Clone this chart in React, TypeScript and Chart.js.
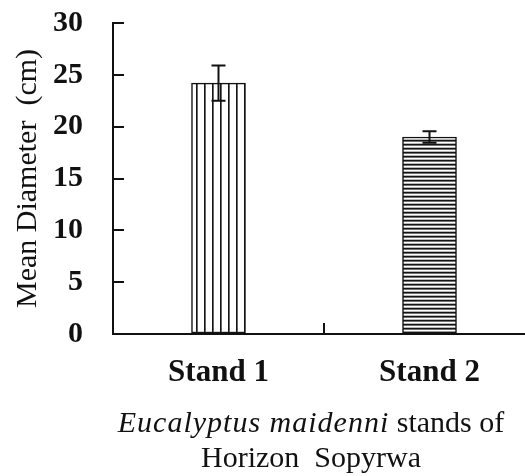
import React, { useEffect, useRef } from 'react';
import { Chart, registerables } from 'chart.js';

Chart.register(...registerables);

const categories = ['Stand 1', 'Stand 2'];
const meanDiameter = [24.2, 19.0];
const errorValues = [1.7, 0.55];
const yTicks = [0, 5, 10, 15, 20, 25, 30];
const yTitle = 'Mean Diameter  (cm)';
const xTitleItalic = 'Eucalyptus maidenni';
const xTitleRest = ' stands of';
const xTitleLine2 = 'Horizon  Sopyrwa';

const FONT = '"Liberation Serif", "Times New Roman", serif';
const INK = '#111';

function makePattern(ctx: CanvasRenderingContext2D, kind: 'v' | 'h') {
  const c = document.createElement('canvas');
  const t = c.getContext('2d') as CanvasRenderingContext2D;
  if (kind === 'v') {
    c.width = 8;
    c.height = 1;
    t.fillStyle = '#fff';
    t.fillRect(0, 0, 8, 1);
    t.fillStyle = '#151515';
    t.fillRect(4, 0, 1, 1);
    t.fillStyle = '#666';
    t.fillRect(5, 0, 1, 1);
  } else {
    c.width = 1;
    c.height = 4;
    t.fillStyle = '#fff';
    t.fillRect(0, 0, 1, 4);
    t.fillStyle = '#151515';
    t.fillRect(0, 0, 1, 1);
    t.fillStyle = '#707070';
    t.fillRect(0, 1, 1, 1);
    t.fillStyle = '#b8b8b8';
    t.fillRect(0, 3, 1, 1);
  }
  return ctx.createPattern(c, 'repeat') as CanvasPattern;
}

const errorBarPlugin = {
  id: 'errorBars',
  afterDatasetsDraw(chart: any) {
    const ctx = chart.ctx;
    const meta = chart.getDatasetMeta(0);
    const y = chart.scales.y;
    ctx.save();
    ctx.strokeStyle = INK;
    ctx.lineWidth = 2;
    meta.data.forEach((bar: any, i: number) => {
      const v = meanDiameter[i];
      const e = errorValues[i];
      const yt = y.getPixelForValue(v + e);
      const yb = y.getPixelForValue(v - e);
      const x = bar.x;
      const cap = 7;
      ctx.beginPath();
      ctx.moveTo(x, yt);
      ctx.lineTo(x, yb);
      ctx.moveTo(x - cap, yt);
      ctx.lineTo(x + cap, yt);
      ctx.moveTo(x - cap, yb);
      ctx.lineTo(x + cap, yb);
      ctx.stroke();
    });
    ctx.restore();
  },
};

const xTitlePlugin = {
  id: 'xTitle',
  afterDraw(chart: any) {
    const ctx = chart.ctx;
    const cx = chart.width / 2;
    const base = chart.chartArea.bottom;
    ctx.save();
    ctx.fillStyle = INK;
    ctx.textBaseline = 'alphabetic';
    ctx.textAlign = 'left';
    ctx.font = `italic 30px ${FONT}`;
    (ctx as any).letterSpacing = '1px';
    const w1 = ctx.measureText(xTitleItalic).width;
    (ctx as any).letterSpacing = '0px';
    ctx.font = `30px ${FONT}`;
    const w2 = ctx.measureText(xTitleRest).width;
    const x0 = cx - (w1 + w2) / 2;
    const y1 = base + 98;
    ctx.font = `italic 30px ${FONT}`;
    (ctx as any).letterSpacing = '1px';
    ctx.fillText(xTitleItalic, x0, y1);
    (ctx as any).letterSpacing = '0px';
    ctx.font = `30px ${FONT}`;
    ctx.fillText(xTitleRest, x0 + w1, y1);
    ctx.textAlign = 'center';
    ctx.fillText(xTitleLine2, cx, base + 133);
    ctx.restore();
  },
};

export default function App() {
  const ref = useRef<HTMLCanvasElement>(null);

  useEffect(() => {
    const canvas = ref.current!;
    const ctx = canvas.getContext('2d') as CanvasRenderingContext2D;
    const patterns = [makePattern(ctx, 'v'), makePattern(ctx, 'h')];
    const chart = new Chart(ctx, {
      type: 'bar',
      data: {
        labels: categories,
        datasets: [
          {
            data: meanDiameter,
            backgroundColor: patterns,
            borderColor: INK,
            borderWidth: 1.5,
            borderSkipped: false,
            barThickness: 54,
          },
        ],
      },
      options: {
        responsive: false,
        maintainAspectRatio: false,
        devicePixelRatio: 1,
        animation: false,
        layout: { padding: { top: 23, right: 87, bottom: 0, left: 0 } },
        plugins: {
          legend: { display: false },
          tooltip: { enabled: false },
        },
        scales: {
          x: {
            offset: true,
            grid: {
              offset: true,
              drawOnChartArea: false,
              drawTicks: true,
              tickLength: -11,
              color: INK,
              lineWidth: 2,
            },
            border: { display: true, color: INK, width: 2 },
            ticks: {
              color: INK,
              padding: 31,
              font: { family: FONT, size: 31, weight: 'bold' },
            },
            afterFit(scale: any) {
              scale.height = 142;
              scale.paddingLeft = 0;
              scale.paddingRight = 0;
            },
          },
          y: {
            min: 0,
            max: 30,
            afterBuildTicks(scale: any) {
              scale.ticks = yTicks.map((v) => ({ value: v }));
            },
            grid: {
              drawOnChartArea: false,
              drawTicks: true,
              tickLength: -11,
              color: INK,
              lineWidth: 2,
            },
            border: { display: true, color: INK, width: 2 },
            ticks: {
              color: INK,
              padding: 41,
              font: { family: FONT, size: 30, weight: 'bold' },
            },
            title: {
              display: true,
              text: yTitle,
              color: INK,
              padding: { top: 10, bottom: 0 },
              font: { family: FONT, size: 30 },
            },
            afterFit(scale: any) {
              scale.width = 113;
              scale.paddingTop = 0;
              scale.paddingBottom = 0;
            },
          },
        },
      },
      plugins: [errorBarPlugin, xTitlePlugin],
    });
    return () => chart.destroy();
  }, []);

  return (
    <div
      style={{
        position: 'absolute',
        left: 0,
        top: 0,
        width: 525,
        height: 476,
        overflow: 'hidden',
        background: '#fff',
      }}
    >
      <canvas ref={ref} width={622} height={476} style={{ display: 'block', width: 622, height: 476 }} />
    </div>
  );
}
